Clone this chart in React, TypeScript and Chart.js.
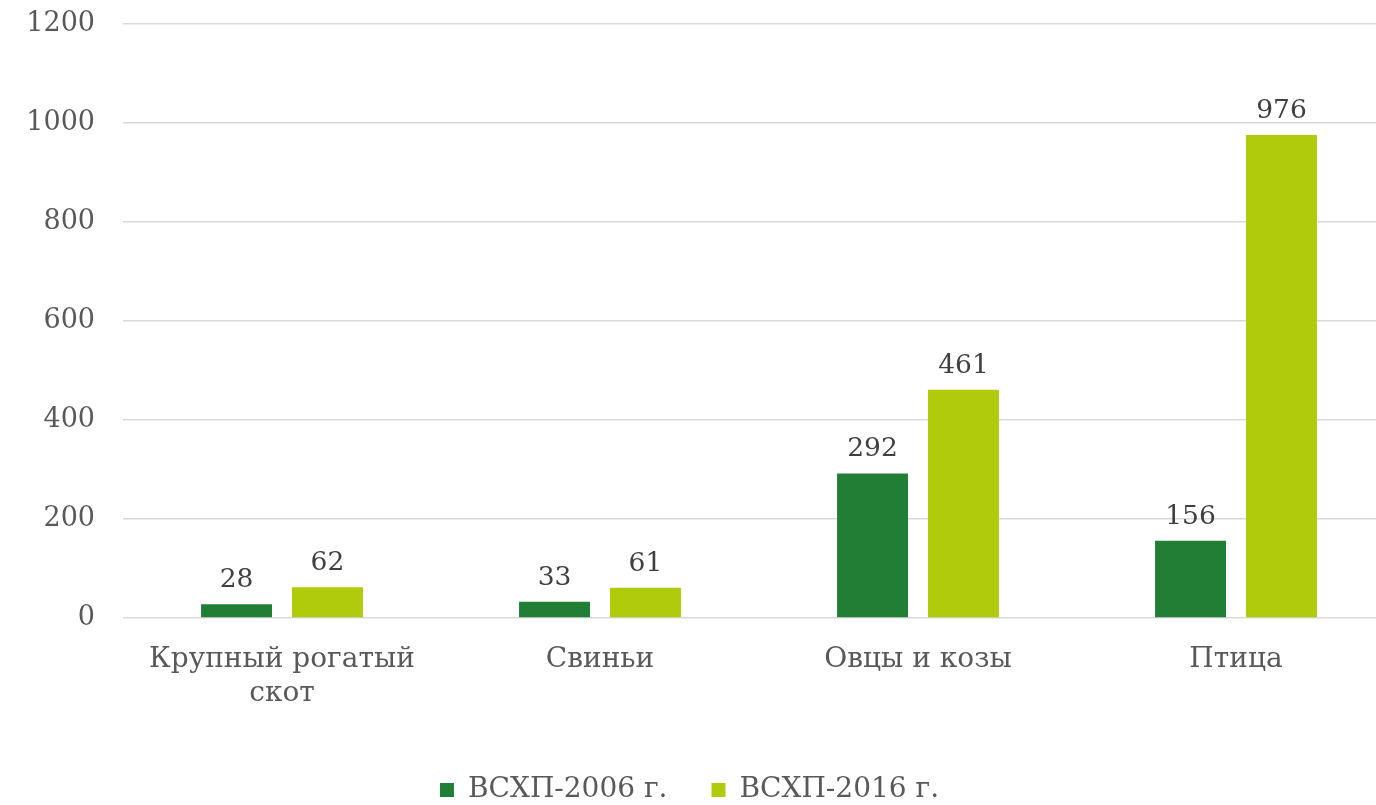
import React, { useEffect, useRef } from "react";
import { Chart, registerables } from "chart.js";

Chart.register(...registerables);

const categories: (string | string[])[] = [["Крупный рогатый", "скот"], "Свиньи", "Овцы и козы", "Птица"];
const series2006: number[] = [28, 33, 292, 156];
const series2016: number[] = [62, 61, 461, 976];
const seriesNames: string[] = ["ВСХП-2006 г.", "ВСХП-2016 г."];
const yTicks: number[] = [0, 200, 400, 600, 800, 1000, 1200];

const FONT = "'DejaVu Serif', 'Liberation Serif', serif";
const CANVAS_W = 1400;
const CANVAS_H = 814;

const dataLabels = {
  id: "dataLabels",
  afterDatasetsDraw(chart: any) {
    const ctx = chart.ctx;
    ctx.save();
    ctx.font = `26.5px ${FONT}`;
    ctx.fillStyle = "#404040";
    ctx.textAlign = "center";
    ctx.textBaseline = "alphabetic";
    chart.data.datasets.forEach((ds: any, i: number) => {
      const meta = chart.getDatasetMeta(i);
      meta.data.forEach((bar: any, j: number) => {
        ctx.fillText(String(ds.data[j]), bar.x, bar.y - 17);
      });
    });
    ctx.restore();
  },
};

const legendShift = {
  id: "legendShift",
  afterLayout(chart: any) {
    const l = chart.legend;
    if (l) {
      l.left -= 8;
      l.right -= 8;
    }
  },
};

export default function App() {
  const ref = useRef<HTMLCanvasElement | null>(null);
  useEffect(() => {
    document.body.style.overflow = "hidden";
    const chart = new Chart(ref.current as HTMLCanvasElement, {
      type: "bar",
      data: {
        labels: categories,
        datasets: [
          {
            label: seriesNames[0],
            data: series2006,
            backgroundColor: "#217E35",
            barPercentage: 0.78,
            categoryPercentage: 0.572,
          },
          {
            label: seriesNames[1],
            data: series2016,
            backgroundColor: "#B0CB0B",
            barPercentage: 0.78,
            categoryPercentage: 0.572,
          },
        ],
      },
      options: {
        animation: false,
        responsive: false,
        layout: { padding: { top: 24, right: 5, left: 0, bottom: 0 } },
        plugins: {
          legend: {
            position: "bottom",
            align: "center",
            labels: {
              boxWidth: 14,
              boxHeight: 14,
              padding: 44,
              color: "#595959",
              font: { family: FONT, size: 28 },
            },
          },
          tooltip: { enabled: false },
        },
        scales: {
          x: {
            grid: { display: false, drawTicks: false },
            border: { display: false },
            ticks: {
              color: "#595959",
              font: { family: FONT, size: 28, lineHeight: 1.2 },
              padding: 25,
              maxRotation: 0,
              autoSkip: false,
            },
            afterFit: (scale: any) => {
              scale.height = 114;
            },
          },
          y: {
            min: 0,
            max: 1200,
            afterBuildTicks: (scale: any) => {
              scale.ticks = yTicks.map((v) => ({ value: v }));
            },
            grid: { color: "#D9D9D9", lineWidth: 1.5, drawTicks: false },
            border: { display: false },
            ticks: {
              color: "#595959",
              font: { family: FONT, size: 27 },
              padding: 28,
              callback: (v: any) => String(v),
            },
            afterFit: (scale: any) => {
              scale.width = 123;
              scale.paddingTop = 0;
              scale.paddingBottom = 0;
            },
          },
        },
      },
      plugins: [dataLabels, legendShift],
    });
    return () => chart.destroy();
  }, []);
  return (
    <div style={{ position: "fixed", left: 0, top: 0, width: 1376, height: 805, overflow: "hidden", background: "#fff" }}>
      <canvas ref={ref} width={CANVAS_W} height={CANVAS_H} style={{ display: "block" }} />
    </div>
  );
}
